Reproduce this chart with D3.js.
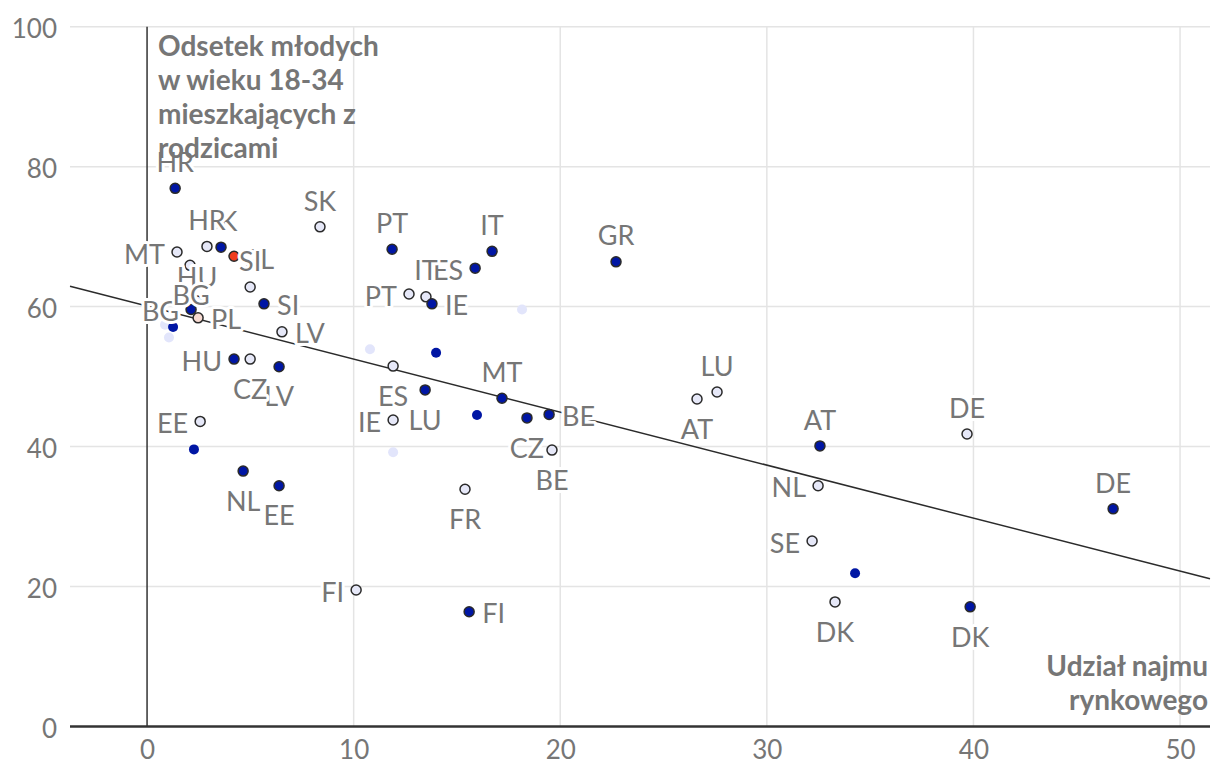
<!DOCTYPE html>
<html>
<head>
<meta charset="utf-8">
<script src="https://cdn.jsdelivr.net/npm/d3@7"></script>
<style>
  html, body { margin: 0; padding: 0; background: #fff; }
  svg { display: block; font-family: Lato, "Open Sans", sans-serif; }
</style>
</head>
<body>
<svg id="chart" width="1220" height="782"></svg>
<script>
// ---------- DATA ----------
// Series A (dark blue, outlined): country, market-rent share, % young living with parents
const seriesA_countries = ["HR","SK","SI","BG","HU","LV","NL","EE","PT","IT","ES","IE","LU","MT","CZ","BE","GR","AT","DE","DK","FI"];
const seriesA_x = [1.36, 3.58, 5.66, 2.13, 4.21, 6.39, 4.65, 6.39, 11.86, 16.70, 15.88, 13.79, 13.46, 17.18, 18.39, 19.46, 22.70, 32.57, 46.76, 39.84, 15.59];
const seriesA_y = [76.9, 68.5, 60.4, 59.6, 52.5, 51.4, 36.5, 34.4, 68.2, 67.9, 65.5, 60.4, 48.1, 46.9, 44.1, 44.6, 66.4, 40.1, 31.1, 17.1, 16.4];

// Series B (light lavender, outlined)
const seriesB_countries = ["MT","HR","HU","SI","BG","LV","CZ","EE","SK","PT","IT","ES","IE","BE","FR","FI","AT","LU","NL","SE","DK","DE"];
const seriesB_x = [1.45, 2.90, 2.08, 4.99, 2.42, 6.53, 4.99, 2.57, 8.37, 12.68, 13.50, 11.91, 11.91, 19.60, 15.39, 10.12, 26.62, 27.59, 32.48, 32.19, 33.30, 39.69];
const seriesB_y = [67.8, 68.6, 65.9, 62.8, 60.8, 56.4, 52.5, 43.6, 71.4, 61.8, 61.4, 51.5, 43.8, 39.5, 33.9, 19.5, 46.8, 47.8, 34.4, 26.5, 17.8, 41.8];

// Highlighted country (PL) in both series
const highlight_countries = ["PL", "PL"];
const highlight_series = ["A", "B"];
const highlight_x = [4.21, 2.47];
const highlight_y = [67.2, 58.4];

// Unlabelled points (no outline)
const extraBlue_x = [1.26, 2.27, 13.99, 15.97, 34.27];
const extraBlue_y = [57.1, 39.6, 53.4, 44.5, 21.9];
const extraLight_x = [0.87, 1.06, 10.79, 18.15, 11.91];
const extraLight_y = [57.4, 55.6, 53.9, 59.6, 39.2];

// Trend line (two end points)
const trend_x = [-3.73, 51.45];
const trend_y = [62.9, 21.1];

// Axis ticks
const xTicks = [0, 10, 20, 30, 40, 50];
const yTicks = [0, 20, 40, 60, 80, 100];
const yTitleLines = ["Odsetek młodych", "w wieku 18-34", "mieszkających z", "rodzicami"];
const xTitleLines = ["Udział najmu", "rynkowego"];

// ---------- LAYOUT ----------
const labelSideA = ["t","t","r","l","l","b","b","b","t","t","l","r","b","t","b","r","t","t","t","b","r"];
const labelSideB = ["l","t",[7,12,"middle"],"t",[-6,-6,"middle"],"r","b","l","t","l","t","b","l","b","b","l","b","t","l","l","b","t"];
const labelSideH = [[10,3,"start"],"r"];

const mLeft = 70, mRight = 1210, mTop = 26.7, mBottom = 726.5;

const x = d3.scaleLinear().domain([-3.73, 51.45]).range([mLeft, mRight]);
const y = d3.scaleLinear().domain([0, 100]).range([mBottom, mTop]);

const svg = d3.select("#chart");
const gray = "#767676";
const blue = "#0016a4";
const lav = "#e6e8f8";

// gridlines
svg.append("g").selectAll("line").data(yTicks.filter(t => t > 0)).join("line")
  .attr("x1", mLeft).attr("x2", mRight)
  .attr("y1", d => y(d)).attr("y2", d => y(d))
  .attr("stroke", "#e4e4e4").attr("stroke-width", 1.5);
svg.append("g").selectAll("line").data(xTicks.filter(t => t > 0)).join("line")
  .attr("x1", d => x(d)).attr("x2", d => x(d))
  .attr("y1", mTop).attr("y2", mBottom)
  .attr("stroke", "#e4e4e4").attr("stroke-width", 1.5);

// zero lines
svg.append("line").attr("x1", x(0)).attr("x2", x(0)).attr("y1", mTop).attr("y2", mBottom)
  .attr("stroke", "#333").attr("stroke-width", 1.5);
svg.append("line").attr("x1", mLeft).attr("x2", mRight).attr("y1", y(0)).attr("y2", y(0))
  .attr("stroke", "#333").attr("stroke-width", 2.5);

// axes tick labels
const tickFs = 26;
const xAxis = d3.axisBottom(x).tickValues(xTicks).tickSize(0).tickPadding(0);
const gx = svg.append("g").attr("transform", `translate(0,${mBottom})`).call(xAxis);
gx.select(".domain").remove();
gx.selectAll("text").attr("fill", gray).attr("font-size", tickFs).attr("font-family", "Lato")
  .attr("dy", null).attr("y", 23.5 + 0.358 * tickFs);

const yAxis = d3.axisLeft(y).tickValues(yTicks).tickSize(0).tickPadding(0);
const gy = svg.append("g").attr("transform", `translate(57,0)`).call(yAxis);
gy.select(".domain").remove();
gy.selectAll("text").attr("fill", gray).attr("font-size", tickFs).attr("font-family", "Lato")
  .attr("dy", null).attr("y", 1.5 + 0.358 * tickFs).attr("text-anchor", "end");

// trend line
const trend = trend_x.map((d, i) => [d, trend_y[i]]);
svg.append("path").datum(trend)
  .attr("d", d3.line().x(d => x(d[0])).y(d => y(d[1])))
  .attr("stroke", "#2b2b2b").attr("stroke-width", 1.5).attr("fill", "none");

// points
const ptsLight = extraLight_x.map((d, i) => ({x: d, y: extraLight_y[i]}));
const ptsBlue = extraBlue_x.map((d, i) => ({x: d, y: extraBlue_y[i]}));
const A = seriesA_countries.map((c, i) => ({c, x: seriesA_x[i], y: seriesA_y[i], side: labelSideA[i], fill: blue}));
const B = seriesB_countries.map((c, i) => ({c, x: seriesB_x[i], y: seriesB_y[i], side: labelSideB[i], fill: lav}));
const Hh = highlight_countries.map((c, i) => ({c, x: highlight_x[i], y: highlight_y[i], side: labelSideH[i],
  fill: highlight_series[i] === "A" ? "#ef3d1f" : "#f8dbd2"}));

svg.append("g").selectAll("circle").data(ptsLight).join("circle")
  .attr("cx", d => x(d.x)).attr("cy", d => y(d.y)).attr("r", 5).attr("fill", "#e2e5fb");
svg.append("g").selectAll("circle").data(ptsBlue).join("circle")
  .attr("cx", d => x(d.x)).attr("cy", d => y(d.y)).attr("r", 5).attr("fill", blue);

const outlined = [...B, ...A, ...Hh];
svg.append("g").selectAll("circle").data(outlined).join("circle")
  .attr("cx", d => x(d.x)).attr("cy", d => y(d.y)).attr("r", 5)
  .attr("fill", d => d.fill).attr("stroke", "#2a2a2a").attr("stroke-width", 1.5);

// labels (A first, then highlight, then B so B covers overlaps)
const labelData = [...A, ...Hh, ...B];
const fs = 27;
const capHalf = 0.358 * fs;
svg.append("g").selectAll("text").data(labelData).join("text")
  .text(d => d.c)
  .attr("font-size", fs).attr("font-family", "Lato")
  .attr("fill", gray)
  .attr("stroke", "#fff").attr("stroke-width", 6).attr("stroke-linejoin", "round")
  .attr("paint-order", "stroke")
  .each(function(d) {
    const px = x(d.x), py = y(d.y);
    const t = d3.select(this);
    let tx = px, ty = py, anchor = "middle";
    if (Array.isArray(d.side)) { tx = px + d.side[0]; ty = py + d.side[1]; anchor = d.side[2]; }
    else if (d.side === "t") { ty = py - 26; }
    else if (d.side === "b") { ty = py + 30; }
    else if (d.side === "l") { tx = px - 12; ty = py + 2; anchor = "end"; }
    else if (d.side === "r") { tx = px + 13; ty = py + 2; anchor = "start"; }
    t.attr("x", tx).attr("y", ty + capHalf).attr("text-anchor", anchor);
  });

// axis titles
const titleFs = 28;
svg.append("text").attr("font-family", "Lato").attr("font-weight", 700).attr("font-size", titleFs)
  .attr("fill", gray)
  .selectAll("tspan").data(yTitleLines).join("tspan")
  .attr("x", 158).attr("y", (d, i) => 56 + i * 34).text(d => d);

svg.append("text").attr("font-family", "Lato").attr("font-weight", 700).attr("font-size", titleFs)
  .attr("fill", gray).attr("text-anchor", "end")
  .selectAll("tspan").data(xTitleLines).join("tspan")
  .attr("x", 1208).attr("y", (d, i) => 676 + i * 34).text(d => d);
</script>
</body>
</html>
